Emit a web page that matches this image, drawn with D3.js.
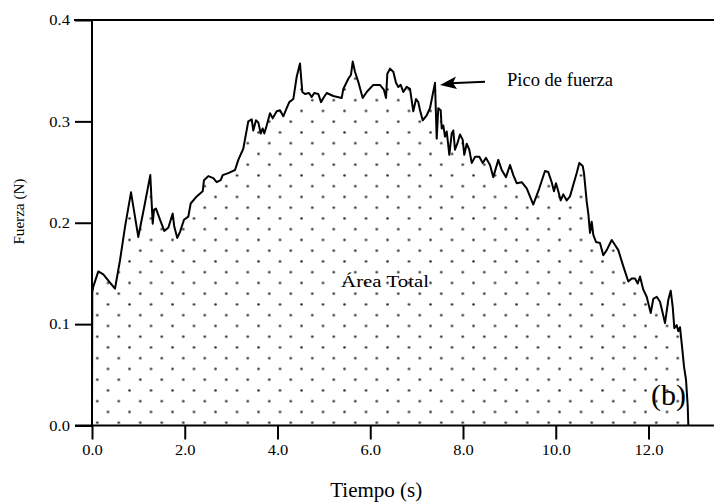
<!DOCTYPE html>
<meta charset="utf-8">
<style>
body { margin: 0; background: #fff; }
svg text { font-family: "Liberation Serif", "Times New Roman", serif; fill: #000; }
.eje line { stroke: #000; stroke-width: 2; }
</style>
<svg width="714" height="503"></svg>
<script src="https://cdn.jsdelivr.net/npm/d3@7"></script>
<script>

// datos (tiempo en s, fuerza en N)
var tiempo = [0, 0.006, 0.028, 0.136, 0.244, 0.388, 0.496, 0.604, 0.712, 0.841, 0.998, 1.128, 1.257, 1.309, 1.337, 1.380,
  1.466, 1.559, 1.645, 1.740, 1.775, 1.839, 1.898, 1.984, 2.077, 2.128, 2.258, 2.387, 2.415, 2.508, 2.616, 2.689,
  2.775, 2.818, 2.939, 3.084, 3.155, 3.262, 3.370, 3.444, 3.478, 3.536, 3.586, 3.638, 3.681, 3.715, 3.767, 3.838,
  3.897, 3.983, 4.054, 4.125, 4.198, 4.254, 4.341, 4.414, 4.485, 4.535, 4.593, 4.679, 4.737, 4.793, 4.880, 4.938,
  5.003, 5.061, 5.203, 5.384, 5.419, 5.527, 5.585, 5.622, 5.671, 5.742, 5.837, 5.923, 6.066, 6.210, 6.296, 6.340,
  6.368, 6.426, 6.497, 6.555, 6.605, 6.657, 6.713, 6.786, 6.857, 6.928, 6.987, 7.036, 7.073, 7.131, 7.217, 7.288,
  7.396, 7.433, 7.467, 7.519, 7.541, 7.575, 7.612, 7.649, 7.705, 7.756, 7.791, 7.827, 7.877, 7.935, 7.993, 8.028,
  8.080, 8.136, 8.188, 8.259, 8.352, 8.425, 8.496, 8.582, 8.653, 8.761, 8.835, 8.927, 9.014, 9.085, 9.158, 9.266,
  9.374, 9.516, 9.645, 9.768, 9.839, 9.913, 9.962, 10.005, 10.055, 10.107, 10.163, 10.236, 10.307, 10.452, 10.508,
  10.581, 10.609, 10.667, 10.702, 10.739, 10.775, 10.810, 10.868, 10.954, 11.025, 11.099, 11.207, 11.278, 11.349,
  11.457, 11.565, 11.638, 11.709, 11.767, 11.817, 11.888, 11.961, 12.048, 12.104, 12.177, 12.248, 12.306, 12.356,
  12.427, 12.479, 12.522, 12.557, 12.608, 12.643, 12.679, 12.716, 12.766, 12.809, 12.846, 12.859];

var fuerza = [0.005, 0.131, 0.137, 0.152, 0.149, 0.141, 0.135, 0.163, 0.196, 0.230, 0.186, 0.216, 0.247, 0.199, 0.213, 0.214,
  0.203, 0.192, 0.195, 0.209, 0.196, 0.185, 0.191, 0.203, 0.206, 0.219, 0.226, 0.231, 0.242, 0.246, 0.244, 0.240,
  0.242, 0.247, 0.249, 0.252, 0.262, 0.273, 0.300, 0.302, 0.291, 0.301, 0.299, 0.288, 0.293, 0.288, 0.296, 0.308,
  0.303, 0.310, 0.311, 0.305, 0.313, 0.319, 0.322, 0.344, 0.357, 0.329, 0.327, 0.328, 0.324, 0.328, 0.327, 0.319,
  0.324, 0.328, 0.325, 0.323, 0.332, 0.342, 0.346, 0.359, 0.349, 0.339, 0.323, 0.329, 0.336, 0.336, 0.331, 0.323,
  0.347, 0.352, 0.349, 0.338, 0.334, 0.336, 0.329, 0.334, 0.332, 0.310, 0.322, 0.319, 0.311, 0.301, 0.306, 0.313,
  0.338, 0.283, 0.313, 0.311, 0.293, 0.296, 0.285, 0.290, 0.267, 0.288, 0.291, 0.272, 0.278, 0.287, 0.282, 0.267,
  0.278, 0.272, 0.259, 0.265, 0.265, 0.259, 0.264, 0.257, 0.245, 0.262, 0.252, 0.245, 0.257, 0.247, 0.239, 0.240,
  0.234, 0.218, 0.234, 0.251, 0.250, 0.240, 0.231, 0.239, 0.231, 0.222, 0.228, 0.222, 0.226, 0.249, 0.259,
  0.256, 0.249, 0.221, 0.209, 0.190, 0.201, 0.188, 0.181, 0.180, 0.168, 0.173, 0.183, 0.178, 0.173,
  0.157, 0.142, 0.145, 0.145, 0.140, 0.147, 0.134, 0.127, 0.111, 0.125, 0.127, 0.122, 0.111, 0.101,
  0.124, 0.133, 0.117, 0.096, 0.099, 0.093, 0.097, 0.081, 0.058, 0.045, 0.019, 0.0];

var ticksX = [0, 2, 4, 6, 8, 10, 12];
var ticksY = [0, 0.1, 0.2, 0.3, 0.4];

var datos = tiempo.map((t, i) => ({t: t, f: fuerza[i]}));

var svg = d3.select("svg");

var x = d3.scaleLinear().domain([0, 12]).range([92, 648.5]);
var y = d3.scaleLinear().domain([0, 0.4]).range([425.5, 20]);

// patron de puntos para el area
var patron = svg.append("defs").append("pattern")
    .attr("id", "puntos")
    .attr("patternUnits", "userSpaceOnUse")
    .attr("width", 21.5)
    .attr("height", 21.5)
    .attr("x", 5.9)
    .attr("y", 8.8);

patron.selectAll("circle")
  .data([5.375, 16.125])
  .enter().append("circle")
    .attr("cx", d => d)
    .attr("cy", d => d)
    .attr("r", 1.3)
    .attr("fill", "#333");

var area = d3.area()
    .x(d => x(d.t))
    .y0(y(0))
    .y1(d => y(d.f));

var linea = d3.line()
    .x(d => x(d.t))
    .y(d => y(d.f));

svg.append("path")
    .datum(datos)
    .attr("fill", "url(#puntos)")
    .attr("d", area);

// ejes
var ejeX = svg.append("g")
    .attr("class", "eje")
    .attr("transform", "translate(0," + y(0) + ")")
    .call(d3.axisBottom(x).tickValues(ticksX).tickSize(14).tickPadding(5).tickFormat(d3.format(".1f")));

var ejeY = svg.append("g")
    .attr("class", "eje")
    .attr("transform", "translate(" + x(0) + ",0)")
    .call(d3.axisLeft(y).tickValues(ticksY).tickSize(17).tickPadding(5).tickFormat(d3.format(".1f")));

svg.selectAll(".eje .domain").remove();
svg.selectAll(".eje").attr("font-family", null).attr("font-size", null);

// el texto del original es algo mas ancho que Times: se estira a lo ancho
function estirar(sel, k) {
  sel.each(function() {
    var w = this.getComputedTextLength();
    d3.select(this).attr("textLength", w * k).attr("lengthAdjust", "spacingAndGlyphs");
  });
}

svg.selectAll(".eje text").style("font-size", "15px");
estirar(svg.selectAll(".eje text"), 1.1);

// marco: lineas inferior, superior e izquierda
svg.append("line").attr("x1", 75).attr("x2", 714).attr("y1", y(0)).attr("y2", y(0))
    .attr("stroke", "#000").attr("stroke-width", 2);
svg.append("line").attr("x1", 74).attr("x2", 714).attr("y1", y(0.4)).attr("y2", y(0.4))
    .attr("stroke", "#000").attr("stroke-width", 2);
svg.append("line").attr("x1", x(0)).attr("x2", x(0)).attr("y1", y(0.4)).attr("y2", y(0))
    .attr("stroke", "#000").attr("stroke-width", 2);

svg.append("path")
    .datum(datos)
    .attr("fill", "none")
    .attr("stroke", "#000")
    .attr("stroke-width", 2)
    .attr("stroke-linejoin", "round")
    .attr("d", linea);

// titulos de los ejes
svg.append("text")
    .attr("x", x(6)+6)
    .attr("y", 497)
    .attr("text-anchor", "middle")
    .style("font-size", "20px")
    .attr("textLength", 92)
    .attr("lengthAdjust", "spacingAndGlyphs")
    .text("Tiempo (s)");

svg.append("text")
    .attr("transform", "translate(24," + y(0.211) + ") rotate(-90)")
    .attr("text-anchor", "middle")
    .style("font-size", "15px")
    .attr("textLength", 66)
    .attr("lengthAdjust", "spacingAndGlyphs")
    .text("Fuerza (N)");

// anotaciones
svg.append("text")
    .attr("x", x(6.32))
    .attr("y", y(0.137))
    .attr("text-anchor", "middle")
    .style("font-size", "17.5px")
    .attr("textLength", 88)
    .attr("lengthAdjust", "spacingAndGlyphs")
    .text("Área Total");

svg.append("text")
    .attr("x", 507)
    .attr("y", 86)
    .style("font-size", "18.5px")
    .attr("textLength", 106)
    .attr("lengthAdjust", "spacingAndGlyphs")
    .text("Pico de fuerza");

var punta = [x(7.396) + 5, y(0.336)];
var cola = [485, 81.7];
svg.append("line")
    .attr("x1", cola[0]).attr("y1", cola[1])
    .attr("x2", punta[0] + 10).attr("y2", punta[1] - 1.6)
    .attr("stroke", "#000").attr("stroke-width", 2);
svg.append("path")
    .attr("d", "M" + punta[0] + "," + punta[1] + "L" + (punta[0] + 16) + "," + (punta[1] - 8.5) +
          "L" + (punta[0] + 13) + "," + (punta[1] - 2) + "L" + (punta[0] + 17) + "," + (punta[1] + 4) + "Z")
    .attr("fill", "#000");

svg.append("text")
    .attr("x", 686)
    .attr("y", 405)
    .attr("text-anchor", "end")
    .style("font-size", "30px")
    .text("(b)");

</script>
